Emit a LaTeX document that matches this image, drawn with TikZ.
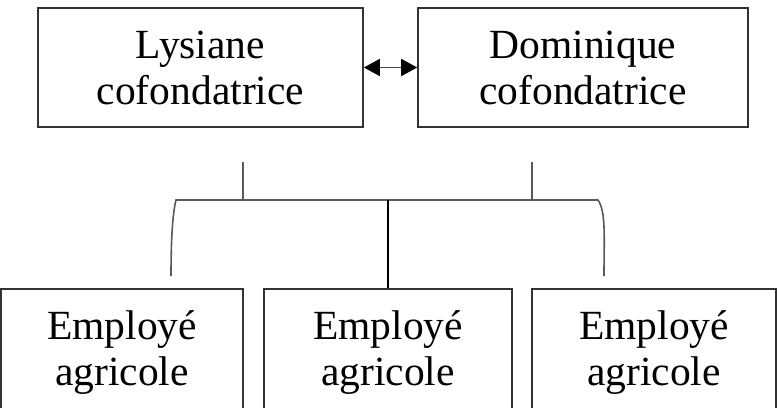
\documentclass[tikz,border=0pt]{standalone}
\usepackage{fontspec}
\setmainfont{Liberation Serif}
\usetikzlibrary{arrows.meta}
\begin{document}
\begin{tikzpicture}[x=1pt,y=-1pt,
  box/.style={draw=black!80, line width=1.6pt, inner sep=0pt, align=center,
    font=\fontsize{41.5}{46}\selectfont},
  conn/.style={draw=black!65, line width=1.6pt},
  dtip/.style={{Triangle[length=16pt,width=17pt,color=black]}-{Triangle[length=16pt,width=17pt,color=black]}}]
\useasboundingbox (0,0) rectangle (778,407);
\clip (0,0) rectangle (778,407);
% top boxes
\node[box, minimum width=325pt, minimum height=119pt] (L) at (200.5,67.5) {Lysiane\\cofondatrice};
\node[box, minimum width=330pt, minimum height=119pt] (R) at (583,67.5) {Dominique\\cofondatrice};
% bottom boxes (cut by the bottom edge)
\node[box, minimum width=242pt, minimum height=128pt] (E1) at (122,353) {Employé\\agricole};
\node[box, minimum width=248pt, minimum height=128pt] (E2) at (388,353) {Employé\\agricole};
\node[box, minimum width=244pt, minimum height=128pt] (E3) at (654,353) {Employé\\agricole};
% double arrow
\draw[draw=black!70, line width=1.6pt, dtip] (L) -- (R);
% connector coordinates
\coordinate (s1) at (243,162);
\coordinate (h1) at (243,200);
\coordinate (s2) at (532,162);
\coordinate (h2) at (532,200);
\coordinate (hl) at (176,200);
\coordinate (hr) at (598,200);
\coordinate (hm) at (388,200);
\coordinate (cl) at (171,276);
\coordinate (cr) at (604,276);
\draw[conn] (s1) -- (h1);
\draw[conn] (s2) -- (h2);
\draw[conn] (cl) .. controls (171,235) and (173,212) .. (hl) -- (hr)
  .. controls (606,212) and (604,235) .. (cr);
\draw[draw=black, line width=1.2pt] (hm) -- (E2.north);
\end{tikzpicture}
\end{document}
